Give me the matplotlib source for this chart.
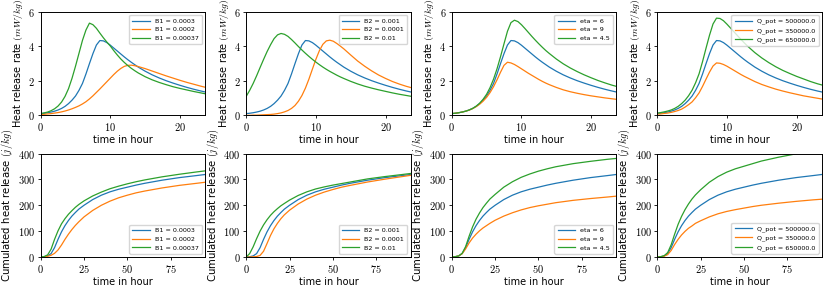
import matplotlib
matplotlib.use('Agg')
import matplotlib.pyplot as plt
from matplotlib.ticker import FuncFormatter

plt.rcParams['font.family'] = ['DejaVu Sans']
plt.rcParams['mathtext.fontset'] = 'cm'

# time grids (hours)
HOURS_RATE = [0, 0.5, 1, 1.5, 2, 2.5, 3, 3.5, 4, 4.5, 5, 5.5, 6, 6.5, 7, 7.5, 8, 8.5, 9, 9.5,
              10, 10.5, 11, 11.5, 12, 12.5, 13, 13.5, 14, 15, 16, 17, 18, 19, 20, 21, 22, 23, 24]
HOURS_CUM = [0, 2, 4, 6, 8, 10, 12, 14, 16, 18, 20, 22, 25, 30, 35, 40, 45, 50, 55, 60, 70, 80, 90, 96]

# heat release rate (mW/kg)
RATE_BASE = [0.10, 0.12, 0.15, 0.19, 0.24, 0.31, 0.40, 0.52, 0.68, 0.88, 1.12, 1.45, 1.85, 2.40, 3.00,
             3.58, 4.08, 4.34, 4.32, 4.22, 4.07, 3.90, 3.73, 3.56, 3.39, 3.23, 3.08, 2.94, 2.80,
             2.56, 2.35, 2.17, 2.01, 1.87, 1.74, 1.62, 1.51, 1.41, 1.32]
RATE_B1_LOW = [0.05, 0.06, 0.08, 0.10, 0.13, 0.16, 0.20, 0.25, 0.31, 0.38, 0.46, 0.55, 0.66, 0.79, 0.95,
               1.13, 1.33, 1.53, 1.74, 1.95, 2.16, 2.37, 2.56, 2.72, 2.84, 2.90, 2.91, 2.88, 2.83,
               2.71, 2.57, 2.43, 2.29, 2.16, 2.03, 1.91, 1.80, 1.69, 1.59]
RATE_B1_HIGH = [0.10, 0.14, 0.19, 0.27, 0.38, 0.54, 0.77, 1.10, 1.55, 2.15, 2.85, 3.60, 4.35, 4.95, 5.35,
                5.26, 5.05, 4.77, 4.50, 4.25, 4.02, 3.75, 3.50, 3.27, 3.07, 2.89, 2.73, 2.59, 2.46,
                2.24, 2.06, 1.91, 1.78, 1.66, 1.56, 1.47, 1.38, 1.30, 1.22]
RATE_B2_LOW = [0.00, 0.00, 0.01, 0.01, 0.02, 0.03, 0.04, 0.05, 0.07, 0.10, 0.14, 0.20, 0.28, 0.40, 0.57,
               0.82, 1.15, 1.58, 2.10, 2.68, 3.25, 3.75, 4.12, 4.32, 4.36, 4.30, 4.17, 4.02, 3.86,
               3.50, 3.15, 2.85, 2.58, 2.34, 2.14, 1.96, 1.81, 1.68, 1.57]
RATE_B2_HIGH = [1.10, 1.45, 1.85, 2.30, 2.78, 3.25, 3.70, 4.10, 4.45, 4.67, 4.75, 4.70, 4.58, 4.40, 4.20,
                3.99, 3.79, 3.60, 3.42, 3.25, 3.09, 2.94, 2.80, 2.67, 2.55, 2.44, 2.33, 2.23, 2.14,
                1.97, 1.82, 1.69, 1.58, 1.48, 1.39, 1.30, 1.22, 1.15, 1.08]
RATE_ETA_HIGH = [0.10, 0.12, 0.15, 0.19, 0.24, 0.30, 0.39, 0.50, 0.64, 0.82, 1.04, 1.32, 1.66, 2.06, 2.50,
                 2.90, 3.08, 3.04, 2.95, 2.83, 2.70, 2.57, 2.44, 2.32, 2.20, 2.08, 1.97, 1.87, 1.78,
                 1.62, 1.48, 1.37, 1.28, 1.20, 1.13, 1.07, 1.01, 0.96, 0.91]
RATE_ETA_LOW = [0.10, 0.12, 0.15, 0.19, 0.24, 0.31, 0.40, 0.53, 0.70, 0.93, 1.22, 1.61, 2.10, 2.70, 3.40,
                4.15, 4.88, 5.38, 5.52, 5.44, 5.26, 5.04, 4.81, 4.58, 4.36, 4.15, 3.95, 3.76, 3.59,
                3.27, 2.99, 2.75, 2.54, 2.35, 2.18, 2.02, 1.88, 1.75, 1.64]
RATE_Q_LOW = [0.07, 0.08, 0.11, 0.13, 0.17, 0.22, 0.28, 0.36, 0.48, 0.62, 0.78, 1.02, 1.30, 1.68, 2.10,
              2.51, 2.86, 3.04, 3.02, 2.95, 2.85, 2.73, 2.61, 2.49, 2.37, 2.26, 2.16, 2.06, 1.96,
              1.79, 1.65, 1.52, 1.41, 1.31, 1.22, 1.13, 1.06, 0.99, 0.92]
RATE_Q_HIGH = [0.13, 0.16, 0.20, 0.25, 0.31, 0.40, 0.52, 0.68, 0.88, 1.14, 1.46, 1.89, 2.41, 3.12, 3.90,
               4.65, 5.30, 5.64, 5.62, 5.49, 5.29, 5.07, 4.85, 4.63, 4.41, 4.20, 4.00, 3.82, 3.64,
               3.33, 3.06, 2.82, 2.61, 2.43, 2.26, 2.11, 1.96, 1.83, 1.72]

# cumulated heat release (j/kg)
CUM_BASE = [0, 1, 4, 13, 36, 68, 97, 121, 141, 158, 172, 185, 200, 222, 239, 252, 262, 270, 278, 285, 297, 307, 315, 320]
CUM_B1_LOW = [0, 0.7, 2.6, 6.4, 14, 27, 46, 68, 88, 106, 122, 136, 155, 180, 200, 216, 229, 239, 248, 255, 267, 277, 285, 290]
CUM_B1_HIGH = [0, 1.5, 8, 30, 68, 101, 128, 148, 165, 179, 192, 203, 217, 236, 251, 264, 274, 283, 291, 298, 310, 320, 329, 334]
CUM_B2_LOW = [0, 0, 0.4, 1.6, 6, 22, 52, 83, 109, 130, 148, 163, 181, 205, 224, 239, 251, 261, 270, 277, 290, 301, 311, 317]
CUM_B2_HIGH = [0, 13, 39, 71, 100, 124, 144, 161, 175, 187, 198, 207, 220, 238, 252, 263, 271, 278, 284, 290, 302, 311, 319, 324]
CUM_ETA_HIGH = [0, 1, 4, 12.5, 31, 54, 73, 88, 101, 112, 121, 130, 142, 158, 171, 182, 191, 198, 204, 210, 219, 226, 232, 236]
CUM_ETA_LOW = [0, 1, 4, 14, 40, 80, 116, 146, 170, 191, 208, 224, 242, 270, 291, 308, 321, 332, 341, 349, 361, 370, 378, 382]
CUM_Q_LOW = [0, 1, 3, 9, 25, 48, 68, 85, 99, 111, 120, 130, 140, 155, 167, 176, 183, 189, 195, 200, 208, 215, 221, 224]
CUM_Q_HIGH = [0, 1, 5, 17, 47, 88, 126, 157, 183, 205, 224, 240, 260, 289, 311, 328, 341, 351, 361, 371, 386, 399, 410, 416]

LABELS = [
    ['B1 = 0.0003', 'B1 = 0.0002', 'B1 = 0.00037'],
    ['B2 = 0.001', 'B2 = 0.0001', 'B2 = 0.01'],
    ['eta = 6', 'eta = 9', 'eta = 4.5'],
    ['Q_pot = 500000.0', 'Q_pot = 350000.0', 'Q_pot = 650000.0'],
]
RATES = [
    [RATE_BASE, RATE_B1_LOW, RATE_B1_HIGH],
    [RATE_BASE, RATE_B2_LOW, RATE_B2_HIGH],
    [RATE_BASE, RATE_ETA_HIGH, RATE_ETA_LOW],
    [RATE_BASE, RATE_Q_LOW, RATE_Q_HIGH],
]
CUMS = [
    [CUM_BASE, CUM_B1_LOW, CUM_B1_HIGH],
    [CUM_BASE, CUM_B2_LOW, CUM_B2_HIGH],
    [CUM_BASE, CUM_ETA_HIGH, CUM_ETA_LOW],
    [CUM_BASE, CUM_Q_LOW, CUM_Q_HIGH],
]
COLORS = ['#1f77b4', '#ff7f0e', '#2ca02c']

math_fmt = FuncFormatter(lambda v, p: f'${v:g}$')


def _style(ax):
    ax.xaxis.set_major_formatter(math_fmt)
    ax.yaxis.set_major_formatter(math_fmt)
    ax.tick_params(labelsize=7.5, length=2.5, width=0.6, pad=1.5)
    for s in ax.spines.values():
        s.set_linewidth(0.7)


def main():
    fig, axes = plt.subplots(2, 4, figsize=(8.3, 2.91), dpi=100)
    fig.subplots_adjust(left=0.049, right=0.990, top=0.959, bottom=0.117, wspace=0.25, hspace=0.37)

    for col in range(4):
        ax = axes[0, col]
        for series, lab, c in zip(RATES[col], LABELS[col], COLORS):
            ax.plot(HOURS_RATE, series, color=c, lw=0.9, label=lab)
        ax.set_xlim(0, 23.6)
        ax.set_ylim(0, 6)
        ax.set_xticks([0, 10, 20])
        ax.set_yticks([0, 2, 4, 6])
        ax.set_xlabel('time in hour', fontsize=7, labelpad=1.5)
        ax.set_ylabel('Heat release rate $(mW/kg)$', fontsize=7, labelpad=2)
        ax.legend(loc='upper right', fontsize=4.6, handlelength=2.7, borderpad=0.5)
        _style(ax)

        ax = axes[1, col]
        for series, lab, c in zip(CUMS[col], LABELS[col], COLORS):
            ax.plot(HOURS_CUM, series, color=c, lw=0.9, label=lab)
        ax.set_xlim(0, 94.8)
        ax.set_ylim(0, 400)
        ax.set_xticks([0, 25, 50, 75])
        ax.set_yticks([0, 100, 200, 300, 400])
        ax.set_xlabel('time in hour', fontsize=7, labelpad=1.5)
        ax.set_ylabel('Cumulated heat release $(j/kg)$', fontsize=7.3, labelpad=2)
        ax.legend(loc='lower right', fontsize=4.6, handlelength=2.7, borderpad=0.5)
        _style(ax)

    fig.savefig('out.png', dpi=100)


if __name__ == '__main__':
    main()
